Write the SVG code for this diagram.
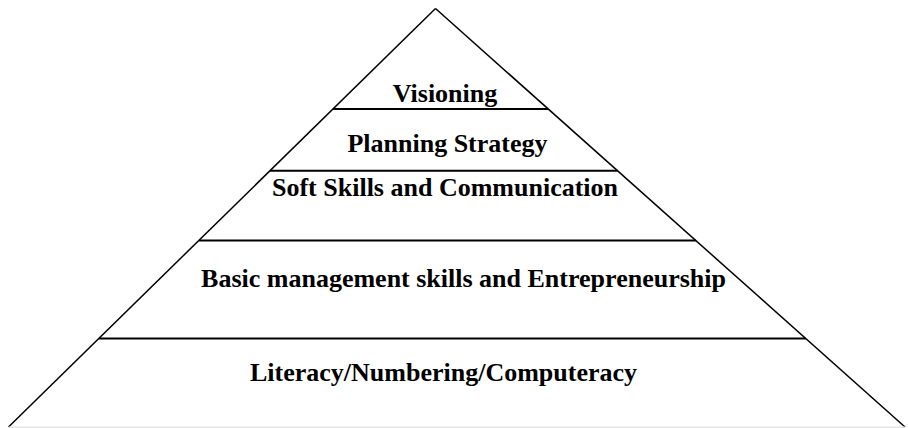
<svg xmlns="http://www.w3.org/2000/svg" width="908" height="428" viewBox="0 0 908 428">
<style>
.lbl{font-family:"Liberation Serif","Times New Roman",serif;font-weight:bold;font-size:26px;fill:#000;text-anchor:middle}
.div{stroke:#000;stroke-width:2;fill:none}
.side{stroke:#000;stroke-width:1.5;fill:none}
</style>
<rect width="908" height="428" fill="#fff"/>
<g id="connectors">
<line class="side" x1="435.5" y1="8.5" x2="8.5" y2="427"/>
<line class="side" x1="435.5" y1="8.5" x2="905" y2="427"/>
<line x1="8.5" y1="427.3" x2="905" y2="427.3" stroke="#e3e3e3" stroke-width="1.5"/>
<line class="div" x1="333" y1="109" x2="548" y2="109"/>
<line class="div" x1="270" y1="170.7" x2="617.5" y2="170.7"/>
<line class="div" x1="199" y1="240.5" x2="696" y2="240.5"/>
<line class="div" x1="99" y1="338.5" x2="806" y2="338.5"/>
</g>
<g id="visioning"><text class="lbl" x="445" y="102">Visioning</text></g>
<g id="planning"><text class="lbl" x="447.5" y="152">Planning Strategy</text></g>
<g id="softskills"><text class="lbl" x="445" y="196">Soft Skills and Communication</text></g>
<g id="basic"><text class="lbl" x="463.5" y="287">Basic management skills and Entrepreneurship</text></g>
<g id="literacy"><text class="lbl" x="443.5" y="381">Literacy/Numbering/Computeracy</text></g>
</svg>
